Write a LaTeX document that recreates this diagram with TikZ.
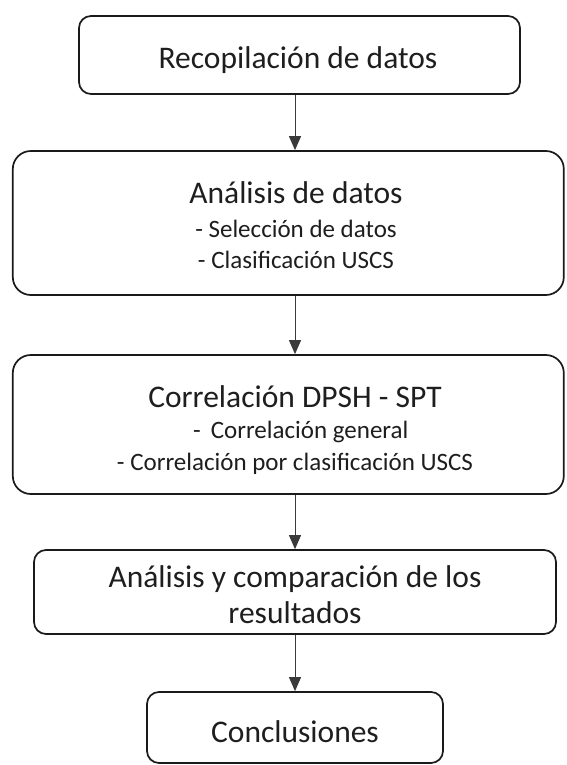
\documentclass[tikz,border=0pt]{standalone}
\usepackage{fontspec}
\setmainfont{Carlito}
\usetikzlibrary{arrows.meta}
\definecolor{ink}{HTML}{1E1E1E}
\definecolor{edge}{HTML}{1A1A1A}
\definecolor{arrline}{HTML}{3A3A3A}
\tikzset{
  box/.style={draw=edge, line width=1.7pt, fill=white, inner sep=0pt},
  ttl/.style={anchor=base, inner sep=0pt, text=ink, font=\fontsize{31.5}{37}\selectfont},
  sub/.style={anchor=base, inner sep=0pt, text=ink, font=\fontsize{25}{30}\selectfont},
  arr/.style={draw=arrline, line width=1pt, -{Triangle[width=12pt,length=14pt]}},
}
\begin{document}
\begin{tikzpicture}[x=1pt,y=-1pt]
\useasboundingbox (0,0) rectangle (566,765);
% boxes
\node[box, rounded corners=12pt, minimum width=441pt, minimum height=78pt] (b1) at (299.5,55) {};
\node[box, rounded corners=18pt, minimum width=551pt, minimum height=144pt] (b2) at (288.3,223) {};
\node[box, rounded corners=18pt, minimum width=551pt, minimum height=139pt] (b3) at (288.3,424.5) {};
\node[box, rounded corners=12pt, minimum width=522pt, minimum height=84pt] (b4) at (295,592) {};
\node[box, rounded corners=12pt, minimum width=296pt, minimum height=71pt] (b5) at (295,727.5) {};
% texts
\node[ttl] (t1) at (298,69) {Recopilación de datos};
\node[ttl] (t2) at (296,203) {Análisis de datos};
\node[sub] (t2a) at (296,237.5) {- Selección de datos};
\node[sub] (t2b) at (296,268) {- Clasificación USCS};
\node[ttl] (t3) at (295,407) {Correlación DPSH - SPT};
\node[sub, anchor=base west] (t3a) at (193,438) {-\hspace{10pt}Correlación general};
\node[sub] (t3b) at (295,470.5) {- Correlación por clasificación USCS};
\node[ttl] (t4) at (295,587) {Análisis y comparación de los};
\node[ttl] (t4b) at (295,623) {resultados};
\node[ttl] (t5) at (295,742) {Conclusiones};
% connectors
\draw[arr] (b1.south -| b4.center) -- (b2.north -| b4.center);
\draw[arr] (b2.south -| b4.center) -- (b3.north -| b4.center);
\draw[arr] (b3.south -| b4.center) -- (b4.north);
\draw[arr] (b4.south) -- (b5.north);
\end{tikzpicture}
\end{document}
